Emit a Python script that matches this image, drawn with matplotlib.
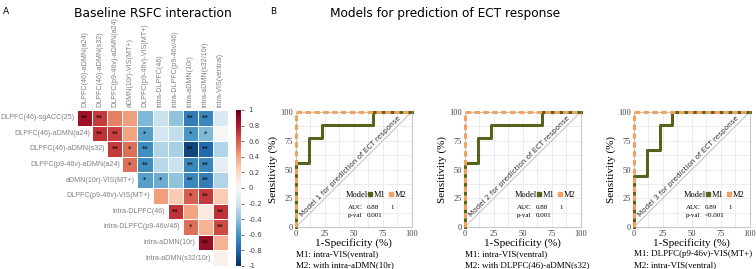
import numpy as np
import matplotlib
matplotlib.use('Agg')
import matplotlib.pyplot as plt
import seaborn as sns
from matplotlib.lines import Line2D

# ---- panel A data (upper triangle of baseline RSFC correlations)
row_labels = ['DLPFC(46)-sgACC(25)', 'DLPFC(46)-aDMN(a24)', 'DLPFC(46)-aDMN(s32)',
              'DLPFC(p9-46v)-aDMN(a24)', 'aDMN(10r)-VIS(MT+)', 'DLPFC(p9-46v)-VIS(MT+)',
              'intra-DLPFC(46)', 'intra-DLPFC(p9-46v/46)', 'intra-aDMN(10r)',
              'intra-aDMN(s32/10r)']
col_labels = ['DLPFC(46)-aDMN(a24)', 'DLPFC(46)-aDMN(s32)', 'DLPFC(p9-46v)-aDMN(a24)',
              'aDMN(10r)-VIS(MT+)', 'DLPFC(p9-46v)-VIS(MT+)', 'intra-DLPFC(46)',
              'intra-DLPFC(p9-46v/46)', 'intra-aDMN(10r)', 'intra-aDMN(s32/10r)',
              'intra-VIS(ventral)']
n = np.nan
r_vals = [
    [0.85, 0.70, 0.50, 0.42, -0.45, -0.22, -0.40, -0.70, -0.65, -0.15],
    [n, 0.72, 0.68, 0.40, -0.55, -0.18, -0.25, -0.58, -0.45, 0.00],
    [n, n, 0.70, 0.55, -0.62, -0.30, -0.33, -0.92, -0.78, -0.30],
    [n, n, n, 0.55, -0.62, -0.28, -0.22, -0.65, -0.65, -0.10],
    [n, n, n, n, -0.55, -0.50, -0.40, -0.65, -0.70, -0.30],
    [n, n, n, n, n, 0.42, 0.25, 0.60, 0.70, 0.25],
    [n, n, n, n, n, n, 0.72, 0.40, 0.10, 0.72],
    [n, n, n, n, n, n, n, 0.55, 0.35, 0.65],
    [n, n, n, n, n, n, n, n, 0.88, 0.35],
    [n, n, n, n, n, n, n, n, n, 0.05],
]
sig_marks = [
    ['**', '**', '', '', '', '', '', '**', '**', ''],
    ['', '**', '**', '', '*', '', '', '*', '*', ''],
    ['', '', '**', '*', '**', '', '', '**', '**', ''],
    ['', '', '', '*', '**', '', '', '**', '**', ''],
    ['', '', '', '', '*', '*', '', '**', '**', ''],
    ['', '', '', '', '', '', '', '*', '**', ''],
    ['', '', '', '', '', '', '**', '', '', '**'],
    ['', '', '', '', '', '', '', '*', '', '**'],
    ['', '', '', '', '', '', '', '', '**', ''],
    ['', '', '', '', '', '', '', '', '', ''],
]

# ---- panel B data (ROC curves, %)
m1_fpr = [[0, 0, 11.1, 11.1, 22.2, 22.2, 66.7, 66.7, 100],
          [0, 0, 11.1, 11.1, 22.2, 22.2, 66.7, 66.7, 100],
          [0, 0, 11.1, 11.1, 22.2, 22.2, 33.3, 33.3, 100]]
m1_tpr = [[0, 55.6, 55.6, 77.8, 77.8, 88.9, 88.9, 100, 100],
          [0, 55.6, 55.6, 77.8, 77.8, 88.9, 88.9, 100, 100],
          [0, 44.4, 44.4, 66.7, 66.7, 88.9, 88.9, 100, 100]]
m2_fpr = [0, 0, 100]
m2_tpr = [0, 100, 100]
auc_m1 = ['0.88', '0.88', '0.89']
auc_m2 = ['1', '1', '1']
pvals = ['0.001', '0.001', '<0.001']
captions = [('M1: intra-VIS(ventral)', 'M2: with intra-aDMN(10r)'),
            ('M1: intra-VIS(ventral)', 'M2: with DLPFC(46)-aDMN(s32)'),
            ('M1: DLPFC(p9-46v)-VIS(MT+)', 'M2: intra-VIS(ventral)')]

green = '#55641c'
orange = '#f0a25e'
serif = 'Liberation Serif'

fig = plt.figure(figsize=(7.56, 2.69), dpi=100)

# ---- panel A
r = np.array(r_vals, dtype=float)
ax_h = fig.add_axes([0.1019, 0.0112, 0.1997, 0.58])
cax = fig.add_axes([0.3122, 0.0112, 0.0066, 0.58])
sns.heatmap(r, mask=np.isnan(r), cmap='RdBu_r', vmin=-1, vmax=1,
            annot=np.array(sig_marks), fmt='', annot_kws={'fontsize': 5, 'color': 'k'},
            linewidths=0.4, linecolor='white', ax=ax_h, cbar_ax=cax,
            xticklabels=col_labels, yticklabels=False)
ax_h.xaxis.tick_top()
ax_h.tick_params(length=0, labelsize=5.1, labelcolor='#808080', pad=2,
                 labelfontfamily='Liberation Sans')
plt.setp(ax_h.get_xticklabels(), rotation=90)
# row labels sit next to the diagonal cell of each row
for i, lab in enumerate(row_labels):
    ax_h.text(i - 0.15, i + 0.5, lab, ha='right', va='center', fontsize=5.1,
              color='#808080', family='Liberation Sans', clip_on=False)
cax.set_yticks(np.linspace(-1, 1, 11))
cax.set_yticklabels(['%g' % round(v, 1) for v in np.linspace(-1, 1, 11)])
cax.tick_params(labelsize=5, length=2, width=0.4, labelcolor='#444444')
fig.text(0.004, 0.975, 'A', fontsize=6.5, va='top')
fig.text(0.2024, 0.975, 'Baseline RSFC interaction', fontsize=8.8, ha='center', va='top')

# ---- panel B
fig.text(0.357, 0.975, 'B', fontsize=6.5, va='top')
fig.text(0.589, 0.975, 'Models for prediction of ECT response', fontsize=8.7, ha='center', va='top')

lefts = [0.3915, 0.615, 0.8386]
for i in range(3):
    ax = fig.add_axes([lefts[i], 0.1561, 0.153, 0.4275])
    ax.set_xlim(0, 100)
    ax.set_ylim(0, 100)
    ax.set_xticks([0, 25, 50, 75, 100])
    ax.set_yticks([0, 25, 50, 75, 100])
    ax.set_xticks(np.arange(0, 101, 12.5), minor=True)
    ax.set_yticks(np.arange(0, 101, 12.5), minor=True)
    ax.grid(True, which='both', color='#e6e6e6', lw=0.5)
    ax.set_axisbelow(True)
    ax.tick_params(which='both', length=0, labelsize=6, labelcolor='#444444', pad=2,
                   labelfontfamily=serif)
    for s in ax.spines.values():
        s.set_color('#c8c8c8')
        s.set_linewidth(0.8)
    ax.plot([0, 100], [0, 100], color='#bdbdbd', lw=0.7)
    ax.text(47, 53, 'Model %d for prediction of ECT response' % (i + 1), rotation=45,
            ha='center', va='center', fontsize=5.2, color='#333333', rotation_mode='anchor')
    ax.plot(m1_fpr[i], m1_tpr[i], color=green, lw=2.2, clip_on=False, zorder=3)
    ax.plot(m2_fpr, m2_tpr, color=orange, lw=2.2, ls=(0, (1.8, 1.1)), clip_on=False, zorder=4)
    ax.set_xlabel('1-Specificity (%)', family=serif, fontsize=8, labelpad=0.5)
    ax.set_ylabel('Sensitivity (%)', family=serif, fontsize=8, labelpad=1.5)

    ax.text(43, 28, 'Model', family=serif, fontsize=6, va='center')
    handles = [Line2D([], [], color=green, marker='s', ls='none', markersize=2.8),
               Line2D([], [], color=orange, marker='s', ls='none', markersize=2.8)]
    ax.legend(handles, ['M1', 'M2'], ncol=2, frameon=False, loc='center left',
              bbox_to_anchor=(0.615, 0.28), handlelength=0.6, handletextpad=0.15,
              columnspacing=0.4, borderpad=0, borderaxespad=0,
              prop={'family': serif, 'size': 6})
    ax.text(45, 17, 'AUC', family=serif, fontsize=5, va='center')
    ax.text(61, 17, auc_m1[i], family=serif, fontsize=5, va='center')
    ax.text(82, 17, auc_m2[i], family=serif, fontsize=5, va='center')
    ax.text(45, 10, 'p-val', family=serif, fontsize=5, va='center')
    ax.text(61, 10, pvals[i], family=serif, fontsize=5, va='center')

    ax.text(0, -0.235, captions[i][0], transform=ax.transAxes, family=serif, fontsize=6.5, va='center')
    ax.text(0, -0.33, captions[i][1], transform=ax.transAxes, family=serif, fontsize=6.5, va='center')

fig.savefig('out.png', dpi=100)
